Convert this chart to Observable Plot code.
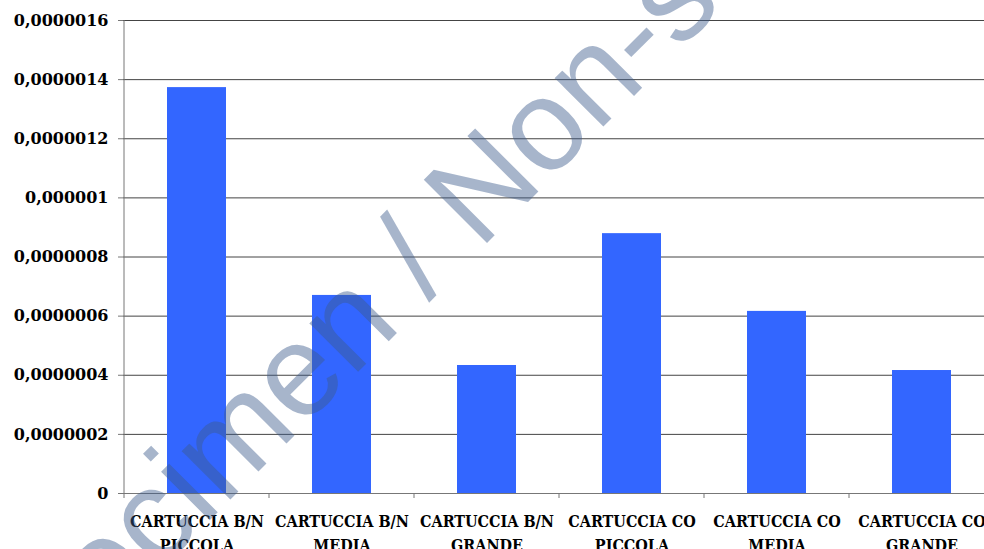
<!DOCTYPE html>
<html><head><meta charset="utf-8">
<script src="https://cdn.jsdelivr.net/npm/d3@7"></script>
<script src="https://cdn.jsdelivr.net/npm/@observablehq/plot@0.6"></script>
<style>
html,body{margin:0;padding:0;background:#fff;overflow:hidden;width:984px;height:549px;}
#wrap{position:relative;width:984px;height:549px;overflow:hidden;}
#wrap svg{max-width:none !important;}
#wrap svg.wm{position:absolute;left:0;top:0;pointer-events:none;}
.xlab text{font-family:'DejaVu Serif Condensed','DejaVu Serif',serif;font-stretch:condensed;}
</style></head><body><div id="wrap"></div>
<script>
const categories = [
  "CARTUCCIA B/N\nPICCOLA",
  "CARTUCCIA B/N\nMEDIA",
  "CARTUCCIA B/N\nGRANDE",
  "CARTUCCIA CO\nPICCOLA",
  "CARTUCCIA CO\nMEDIA",
  "CARTUCCIA CO\nGRANDE"
];
const values = [0.000001373, 0.000000670, 0.000000433, 0.000000879, 0.000000616, 0.000000416];
const yTicks = [0, 0.0000002, 0.0000004, 0.0000006, 0.0000008, 0.000001, 0.0000012, 0.0000014, 0.0000016];
const watermarkText = "Specimen / Non-sellable";

const data = categories.map((c, i) => ({cat: c, value: values[i]}));
const fmt = d => d === 0 ? "0" : d.toFixed(7).replace(/0+$/, "").replace(".", ",");

function bandTicks(index, scales, vals, dim) {
  const x = scales.x;
  const n = categories.length;
  const step = x.step ? x.step() : (dim.width - dim.marginLeft - dim.marginRight) / n;
  const bw = x.bandwidth ? x.bandwidth() : step * 0.41;
  const y0 = dim.height - dim.marginBottom;
  const g = d3.create("svg:g").attr("stroke", "#777").attr("stroke-width", 1);
  const edges = categories.map(c => x(c) - (step - bw) / 2);
  edges.push(edges[n - 1] + step);
  for (const e of edges) {
    g.append("line").attr("x1", e).attr("x2", e).attr("y1", y0).attr("y2", y0 + 5);
  }
  g.append("line").attr("x1", edges[0]).attr("x2", edges[0])
    .attr("y1", dim.marginTop).attr("y2", y0);
  return g.node();
}

const chart = Plot.plot({
  width: 995, height: 549,
  marginLeft: 123, marginRight: 0, marginTop: 20, marginBottom: 56,
  style: {fontFamily: "'DejaVu Serif', serif", fontWeight: "bold", fontSize: "16px", color: "#000", background: "transparent", overflow: "visible", maxWidth: "none"},
  x: {domain: categories, paddingInner: 0.59, paddingOuter: 0.295, axis: null},
  y: {domain: [0, 0.0000016], axis: null},
  marks: [
    Plot.ruleY(yTicks.slice(1), {stroke: "#444", strokeWidth: 1}),
    Plot.barY(data, {x: "cat", y: "value", fill: "#3366ff"}),
    Plot.ruleY([0], {stroke: "#777", strokeWidth: 1}),
    Plot.axisY({ticks: yTicks, tickFormat: fmt, tickSize: 5, tickPadding: 10, label: null, stroke: "#777", fill: "#000", fontSize: 16, fontWeight: "bold"}),
    Plot.text(categories, {x: d => d, frameAnchor: "bottom", dy: 16, lineAnchor: "top", lineHeight: 1.5, fontSize: 16, fontWeight: "bold", fill: "#000", className: "xlab"}),
    bandTicks
  ]
});
const wrap = document.getElementById("wrap");
wrap.appendChild(chart);

const wm = d3.select(wrap).append("svg").attr("class", "wm").attr("width", 984).attr("height", 549);
wm.append("text")
  .attr("transform", "translate(-6,736) rotate(-45)")
  .attr("font-family", "'Liberation Sans', Arial, sans-serif")
  .attr("font-size", 130)
  .attr("fill", "rgba(60,90,140,0.45)")
  .text(watermarkText);
</script></body></html>
